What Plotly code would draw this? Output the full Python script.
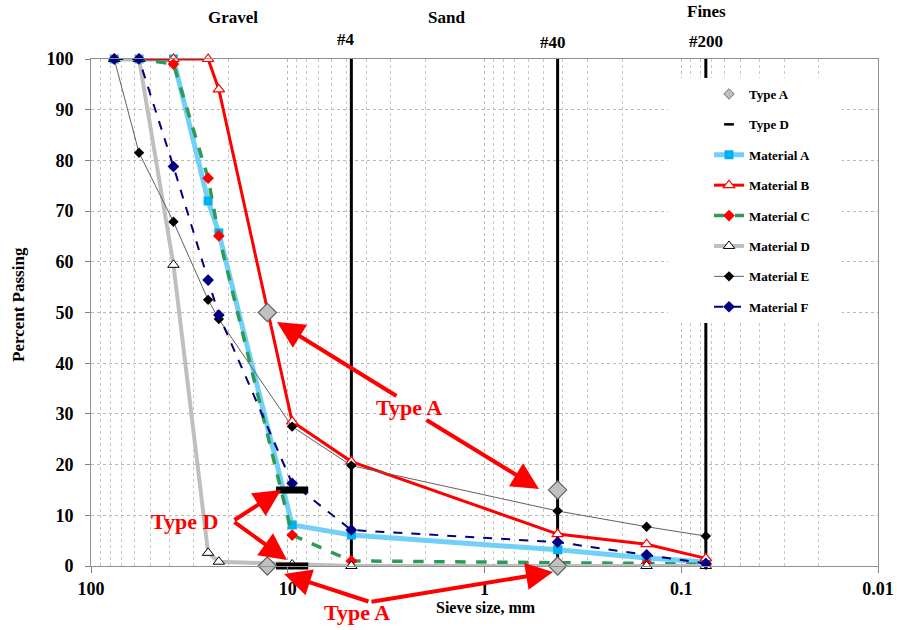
import numpy as np
import plotly.graph_objects as go

# ---------------- data ----------------
sieve_mm = [76.2, 57.0, 38.1, 25.4, 22.4, 9.5, 4.75, 0.425, 0.15, 0.075]
material_a = [100, 100, 100, 72.0, 65.7, 8.1, 6.1, 3.2, 1.6, 0.8]
material_b = [100, 100, 100, 100, 94.0, 28.5, 20.6, 6.3, 4.3, 1.5]
material_c = [100, 100, 99.0, 76.5, 65.1, 6.1, 1.0, 0.7, 0.5, 0.3]
material_d = [100, 100, 59.4, 2.6, 0.85, 0.3, 0, 0, 0, 0]
material_e = [100, 81.5, 67.9, 52.5, 48.7, 27.5, 19.8, 10.85, 7.75, 5.9]
material_f = [100, 100, 78.8, 56.4, 49.5, 16.3, 7.1, 4.7, 2.2, 0.5]

type_a_x = [12.7, 12.7, 0.425, 0.425]
type_a_y = [50, 0, 15, 0]
type_d_x = [9.5, 9.5]
type_d_y = [15, 0]

sieve_lines_mm = [4.75, 0.425, 0.075]
sieve_line_labels = ["#4", "#40", "#200"]
y_ticks = list(range(0, 101, 10))
x_ticks = [100, 10, 1, 0.1, 0.01]
x_tick_text = ["100", "10", "1", "0.1", "0.01"]

# ---------------- layout geometry (pixels) ----------------
W, H = 897, 630
L, R, T, B = 91, 19, 59, 64
PW, PH = W - L - R, H - T - B


def px(xp):
    return (xp - L) / PW


def py(yp):
    return (H - B - yp) / PH


FONT = "Liberation Serif"

fig = go.Figure()

# legend-only entries for the design markers
fig.add_trace(go.Scatter(x=[None], y=[None], mode="markers", name="Type A",
                         marker=dict(symbol="diamond", size=8, color="#c0c0c0",
                                     line=dict(color="#707070", width=1)),
                         legendgroup="ta"))
fig.add_trace(go.Scatter(x=[None], y=[None], mode="markers", name="Type D",
                         marker=dict(symbol="line-ew", size=7, color="black",
                                     line=dict(color="black", width=2.5)),
                         legendgroup="td"))

# vertical sieve lines
for s in sieve_lines_mm:
    fig.add_trace(go.Scatter(x=[s, s], y=[0, 100], mode="lines",
                             line=dict(color="black", width=3),
                             showlegend=False, hoverinfo="skip", cliponaxis=False))

# materials
fig.add_trace(go.Scatter(x=sieve_mm, y=material_a, mode="lines+markers", name="Material A",
                         line=dict(color="#70d0f8", width=5),
                         marker=dict(symbol="square", size=9, color="#00b0f0"),
                         legendgroup="a", cliponaxis=False))
fig.add_trace(go.Scatter(x=sieve_mm, y=material_b, mode="lines+markers", name="Material B",
                         line=dict(color="#ff0000", width=3),
                         marker=dict(symbol="triangle-up", size=10, color="white",
                                     line=dict(color="#ff0000", width=1.2)),
                         legendgroup="b", cliponaxis=False))
fig.add_trace(go.Scatter(x=sieve_mm, y=material_c, mode="lines+markers", name="Material C",
                         line=dict(color="#2e9a5a", width=3.5, dash="dash"),
                         marker=dict(symbol="diamond", size=9, color="#ff0000"),
                         legendgroup="c", cliponaxis=False))
fig.add_trace(go.Scatter(x=sieve_mm, y=material_d, mode="lines+markers", name="Material D",
                         line=dict(color="#bfbfbf", width=4),
                         marker=dict(symbol="triangle-up", size=10, color="white",
                                     line=dict(color="black", width=1)),
                         legendgroup="d", cliponaxis=False))
fig.add_trace(go.Scatter(x=sieve_mm, y=material_e, mode="lines+markers", name="Material E",
                         line=dict(color="#606060", width=1),
                         marker=dict(symbol="diamond", size=8, color="black"),
                         legendgroup="e", cliponaxis=False))
fig.add_trace(go.Scatter(x=sieve_mm, y=material_f, mode="lines+markers", name="Material F",
                         line=dict(color="#000080", width=2, dash="dash"),
                         marker=dict(symbol="diamond", size=9, color="#000080"),
                         legendgroup="f", cliponaxis=False))

# design points drawn on top
fig.add_trace(go.Scatter(x=type_d_x, y=type_d_y, mode="markers", showlegend=False,
                         marker=dict(symbol="line-ew", size=23, color="black",
                                     line=dict(color="black", width=7)),
                         cliponaxis=False, hoverinfo="skip"))
fig.add_trace(go.Scatter(x=type_a_x, y=type_a_y, mode="markers", showlegend=False,
                         marker=dict(symbol="diamond", size=14, color="#c0c0c0",
                                     line=dict(color="#606060", width=1.2)),
                         cliponaxis=False, hoverinfo="skip"))

grid_minor = [m * 10 ** e for e in range(-2, 2) for m in range(2, 10)]

fig.update_xaxes(type="log", range=[2, -2], tickvals=x_ticks, ticktext=x_tick_text,
                 showgrid=True, gridcolor="#b8b8b8", griddash="dot", gridwidth=1,
                 ticks="outside", ticklen=6, tickcolor="#808080",
                 showline=True, linecolor="#909090", linewidth=1, mirror=True,
                 tickfont=dict(family=FONT, size=18, color="black", weight="bold"),
                 minor=dict(tickvals=grid_minor, showgrid=True, gridcolor="#c8c8c8",
                            griddash="dot", gridwidth=1),
                 zeroline=False)
fig.update_yaxes(range=[0, 100], tickvals=y_ticks,
                 showgrid=True, gridcolor="#b8b8b8", griddash="dot", gridwidth=1,
                 ticks="outside", ticklen=5, tickcolor="#808080",
                 showline=True, linecolor="#909090", linewidth=1, mirror=True,
                 tickfont=dict(family=FONT, size=18, color="black", weight="bold"),
                 ticklabelstandoff=8, zeroline=False)

ann = []
bold = dict(family=FONT, color="black", weight="bold")


def label(txt, xp, yp, font, angle=0):
    return dict(text=txt, x=px(xp), y=py(yp), xref="paper", yref="paper",
                xanchor="center", yanchor="middle", showarrow=False,
                textangle=angle, font=font)


# region labels
for txt, xp, yp in [("Gravel", 233, 17), ("Sand", 446, 17), ("Fines", 706, 12)]:
    ann.append(label(txt, xp, yp, dict(size=17, **bold)))
for txt, xp, yp in zip(sieve_line_labels, [346, 553, 706], [39, 42, 41]):
    ann.append(label(txt, xp, yp, dict(size=17, **bold)))
# axis titles
ann.append(label("Sieve size, mm", 486, 607, dict(size=16, **bold)))
ann.append(label("Percent Passing", 18, 305, dict(size=17, **bold), angle=-90))

red = dict(family=FONT, color="#ff0000", weight="bold", size=22)
ann.append(label("Type A", 409, 407, red))
ann.append(label("Type D", 184, 521, red))
ann.append(label("Type A", 357, 612, red))

arrows = [((398, 397), (277, 322)), ((425, 419), (539, 489)),
          ((233, 521), (281, 490)), ((233, 521), (287, 560)),
          ((370, 602), (284, 574)), ((370, 602), (553, 572))]
for (tx, ty), (hx, hy) in arrows:
    ann.append(dict(text="", x=px(hx), y=py(hy), xref="paper", yref="paper",
                    ax=tx - hx, ay=ty - hy, showarrow=True, arrowhead=2,
                    arrowsize=1.35, arrowwidth=4, arrowcolor="#ff0000",
                    standoff=0, startstandoff=0))

fig.update_layout(
    width=W, height=H,
    margin=dict(l=L, r=R, t=T, b=B, autoexpand=False),
    plot_bgcolor="white", paper_bgcolor="white",
    font=dict(family=FONT, color="black"),
    annotations=ann,
    shapes=[dict(type="rect", xref="paper", yref="paper", x0=px(668), x1=px(842),
                 y0=py(323), y1=py(78), fillcolor="white", line=dict(width=0), layer="above")],
    legend=dict(x=px(709), y=py(79), xanchor="left", yanchor="top",
                bgcolor="rgba(0,0,0,0)", borderwidth=0, tracegroupgap=10.5,
                font=dict(family=FONT, size=13, color="black", weight="bold")),
    showlegend=True,
)

fig.write_html("out.html")
